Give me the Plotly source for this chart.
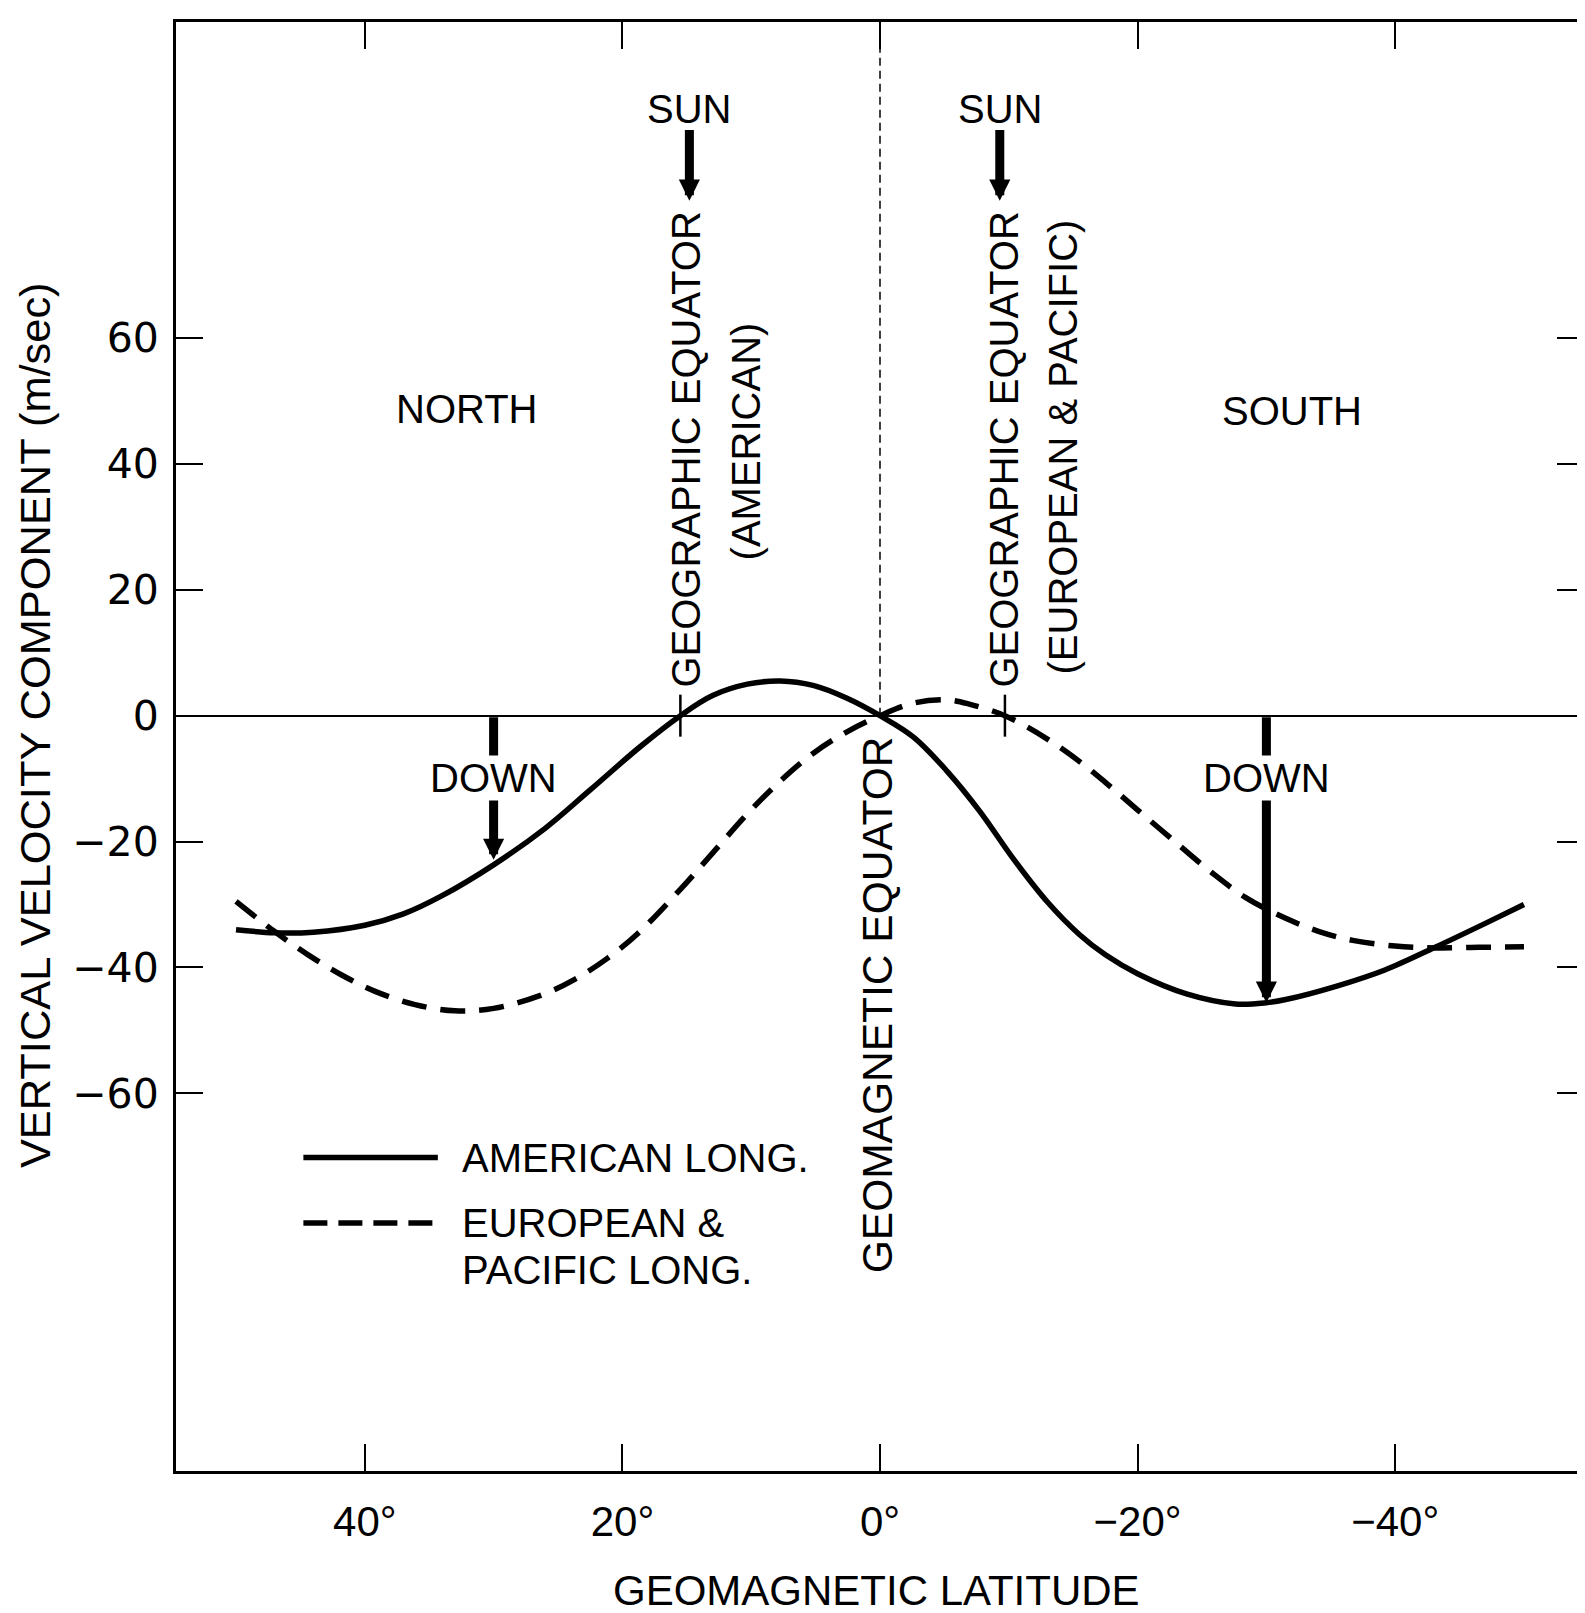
import plotly.graph_objects as go

# ---------------- data ----------------
AMERICAN_LAT = [50, 47, 44, 40, 37, 34, 30, 26, 22.5, 18.6, 15.5, 13, 10.3, 7.75, 5.2, 2.6, 0,
                -2.6, -5.2, -7.75, -10.3, -13, -15.5, -17.5, -20, -23.8, -27.6, -30, -31.5,
                -35.4, -39.2, -43.1, -47, -50]
AMERICAN_VEL = [-34.0, -34.5, -34.4, -33.3, -31.5, -28.6, -23.7, -17.9, -11.8, -4.9, 0, 3.2, 5.0,
                5.5, 4.8, 2.8, 0, -3.4, -8.8, -15.2, -22.6, -29.6, -34.8, -38.0, -41.0, -44.2,
                -45.8, -45.6, -45.1, -43.0, -40.4, -36.8, -33.0, -30.0]

EUROPEAN_LAT = [50, 47, 44.4, 41.8, 39.2, 36.1, 33, 30, 26.3, 23.7, 21.2, 18.8, 15.5, 12.9, 10.3,
                7.75, 5.2, 2.6, 0, -2.6, -5.2, -7, -9.7, -12.9, -15.5, -17.5, -19.9, -23, -25.8,
                -28.4, -31.5, -34.1, -36.7, -40, -43.1, -46.5, -50]
EUROPEAN_VEL = [-29.5, -34.3, -38.0, -41.2, -43.8, -45.9, -46.9, -46.5, -44.4, -41.9, -38.6, -34.6,
                -27.6, -21.6, -15.6, -10.4, -6.0, -2.6, 0, 2.0, 2.5, 1.8, 0, -3.6, -7.3, -10.6,
                -14.8, -20.2, -25.0, -28.9, -32.2, -34.3, -35.7, -36.6, -36.9, -36.8, -36.7]

GEO_EQUATOR_LAT = [15.5, -9.7]          # American, European & Pacific
SUN_LAT = [14.8, -9.3]
DOWN_LAT = [30, -30]
DOWN_TIP = [-22.9, -45.6]

X_TICKS = [40, 20, 0, -20, -40]
X_TICK_TEXT = ["40°", "20°", "0°", "\u221220°", "\u221240°"]
Y_TICKS = [60, 40, 20, 0, -20, -40, -60]
Y_TICK_TEXT = ["60", "40", "20", "0", "\u221220", "\u221240", "\u221260"]

X_RANGE = [54.66, -54.66]
Y_RANGE = [-120, 110.2]

FONT = "Liberation Sans, Arial, sans-serif"
BLACK = "black"

fig = go.Figure()

fig.add_trace(go.Scatter(x=AMERICAN_LAT, y=AMERICAN_VEL, mode="lines",
                         line=dict(color=BLACK, width=5.5, shape="spline", smoothing=1.0),
                         name="AMERICAN LONG.", showlegend=False))
fig.add_trace(go.Scatter(x=EUROPEAN_LAT, y=EUROPEAN_VEL, mode="lines",
                         line=dict(color=BLACK, width=5.5, dash="25px,14px", shape="spline", smoothing=1.0),
                         name="EUROPEAN & PACIFIC LONG.", showlegend=False))
fig.add_trace(go.Scatter(x=GEO_EQUATOR_LAT, y=[0, 0], mode="markers",
                         marker=dict(symbol="line-ns", size=30, line=dict(color=BLACK, width=2.5)),
                         showlegend=False, hoverinfo="skip"))

shapes = [
    # geomagnetic equator dashed line
    dict(type="line", xref="x", yref="y", x0=0, x1=0, y0=0, y1=Y_RANGE[1],
         line=dict(color=BLACK, width=1.5, dash="8px,5px")),
    # legend samples
    dict(type="line", xref="x", yref="y", x0=44.77, x1=34.33, y0=-70.2, y1=-70.2,
         line=dict(color=BLACK, width=5.5)),
    dict(type="line", xref="x", yref="y", x0=44.77, x1=34.33, y0=-80.6, y1=-80.6,
         line=dict(color=BLACK, width=5.5, dash="24px,11px")),
]

tf = dict(family=FONT, size=40, color=BLACK)
ann = []
# arrows first
for lat in SUN_LAT:
    ann.append(dict(x=lat, y=81.8, ax=lat, ay=93.3, xref="x", yref="y", axref="x", ayref="y",
                    text="", showarrow=True, arrowhead=2, arrowwidth=9, arrowsize=0.47,
                    arrowcolor=BLACK, standoff=0))
for lat, tip in zip(DOWN_LAT, DOWN_TIP):
    ann.append(dict(x=lat, y=tip, ax=lat, ay=0, xref="x", yref="y", axref="x", ayref="y",
                    text="", showarrow=True, arrowhead=2, arrowwidth=9, arrowsize=0.47,
                    arrowcolor=BLACK, standoff=0))
# texts
for lat in SUN_LAT:
    ann.append(dict(x=lat, y=96.3, xref="x", yref="y", text="SUN", showarrow=False, font=tf))
for lat in DOWN_LAT:
    ann.append(dict(x=lat, y=-9.9, xref="x", yref="y", text="DOWN", showarrow=False, font=tf,
                    bgcolor="white", borderpad=0))
ann += [
    dict(x=32.07, y=48.7, xref="x", yref="y", text="NORTH", showarrow=False, font=tf),
    dict(x=-31.95, y=48.4, xref="x", yref="y", text="SOUTH", showarrow=False, font=tf),
    dict(x=15.05, y=42.3, xref="x", yref="y", text="GEOGRAPHIC EQUATOR", textangle=-90,
         showarrow=False, font=tf),
    dict(x=10.44, y=43.5, xref="x", yref="y", text="(AMERICAN)", textangle=-90,
         showarrow=False, font=tf),
    dict(x=-9.64, y=42.3, xref="x", yref="y", text="GEOGRAPHIC EQUATOR", textangle=-90,
         showarrow=False, font=tf),
    dict(x=-14.18, y=42.7, xref="x", yref="y", text="(EUROPEAN &amp; PACIFIC)", textangle=-90,
         showarrow=False, font=tf),
    dict(x=0.18, y=-45.9, xref="x", yref="y", text="GEOMAGNETIC EQUATOR", textangle=-90,
         showarrow=False, font=dict(family=FONT, size=42.5, color=BLACK)),
    dict(x=32.6, y=-70.2, xref="x", yref="y", text="AMERICAN LONG.", xanchor="left",
         showarrow=False, font=tf),
    dict(x=32.6, y=-80.6, xref="x", yref="y", text="EUROPEAN &amp;", xanchor="left",
         showarrow=False, font=tf),
    dict(x=32.6, y=-88.0, xref="x", yref="y", text="PACIFIC LONG.", xanchor="left",
         showarrow=False, font=tf),
    # axis titles
    dict(x=0.3, y=0, xref="x", yref="paper", yshift=-119, yanchor="middle",
         text="GEOMAGNETIC LATITUDE", showarrow=False,
         font=dict(family=FONT, size=42, color=BLACK)),
    dict(x=0, y=-1.5, xref="paper", yref="y", xshift=-141, xanchor="center",
         text="VERTICAL VELOCITY COMPONENT (m/sec)", textangle=-90, showarrow=False,
         font=dict(family=FONT, size=43.4, color=BLACK)),
]

fig.update_layout(
    width=1585, height=1613,
    margin=dict(l=168, r=6, t=14, b=150),
    paper_bgcolor="white", plot_bgcolor="white",
    shapes=shapes, annotations=ann, showlegend=False,
    xaxis=dict(range=X_RANGE, tickvals=X_TICKS, ticktext=X_TICK_TEXT,
               ticks="inside", ticklen=27, tickwidth=2, tickcolor=BLACK,
               showline=True, linewidth=3, linecolor=BLACK, mirror="ticks",
               showgrid=False, zeroline=False, ticklabelstandoff=12,
               tickfont=dict(family=FONT, size=42, color=BLACK)),
    yaxis=dict(range=Y_RANGE, tickvals=Y_TICKS, ticktext=Y_TICK_TEXT,
               ticks="inside", ticklen=27, tickwidth=2, tickcolor=BLACK,
               showline=True, linewidth=3, linecolor=BLACK, mirror="ticks",
               showgrid=False, zeroline=True, zerolinecolor=BLACK, zerolinewidth=2,
               ticklabelstandoff=6,
               tickfont=dict(family="DejaVu Sans, sans-serif", size=41, color=BLACK)),
)

fig.write_html("out.html")
